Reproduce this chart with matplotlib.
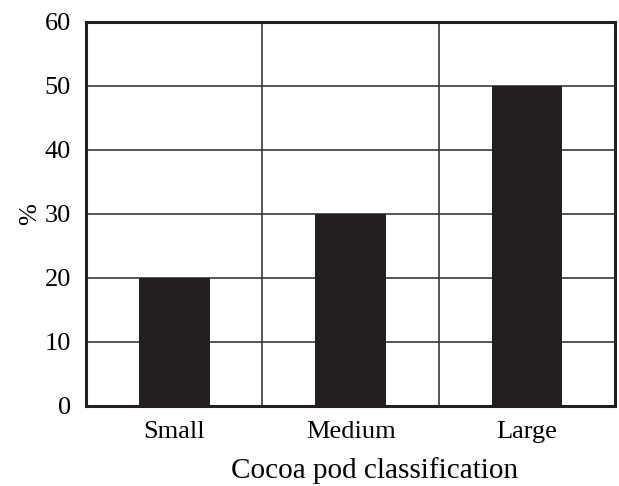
import matplotlib.pyplot as plt

categories = ['Small', 'Medium', 'Large']
percent = [20, 30, 50]
y_ticks = [0, 10, 20, 30, 40, 50, 60]

plt.rcParams['font.family'] = ['Liberation Serif', 'DejaVu Serif']

fig = plt.figure(figsize=(6.19, 4.86), dpi=100)
ax = fig.add_axes([0.139, 0.165, 0.855, 0.79])

x = range(len(categories))
ax.bar(x, percent, width=0.4, color='#231f20', zorder=3)

ax.set_xlim(-0.5, len(categories) - 0.5)
ax.set_ylim(0, 60)
ax.set_yticks(y_ticks)
ax.set_xticks(list(x))
ax.set_xticklabels(categories)

# category dividers and horizontal grid
for b in [i + 0.5 for i in range(len(categories) - 1)]:
    ax.axvline(b, color='#3a3a3a', linewidth=1.2, zorder=1)
for t in y_ticks[1:-1]:
    ax.axhline(t, color='#3a3a3a', linewidth=1.2, zorder=1)

for s in ax.spines.values():
    s.set_linewidth(2.2)
    s.set_color('#231f20')

ax.tick_params(axis='y', length=0, labelsize=19, pad=11)
ax.tick_params(axis='x', length=0, labelsize=19, pad=11)
ax.set_xlabel('Cocoa pod classification', fontsize=21, labelpad=10, x=0.545)
ax.set_ylabel('%', fontsize=19, labelpad=2)

fig.savefig('out.png', dpi=100)
